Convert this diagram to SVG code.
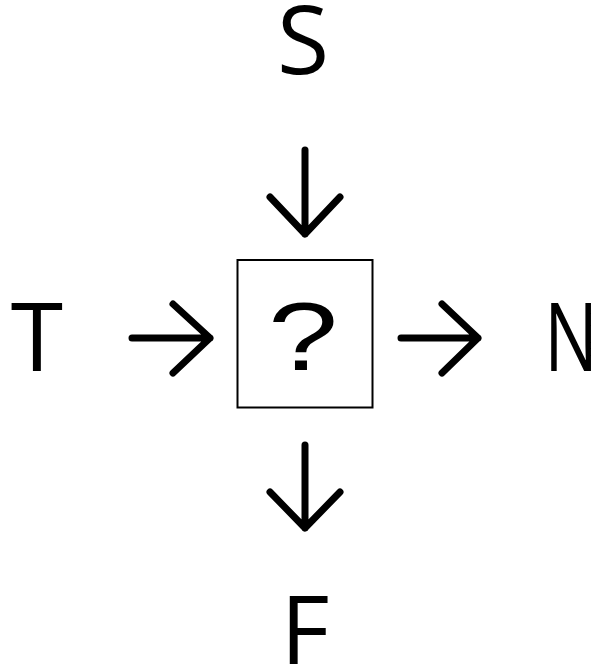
<svg xmlns="http://www.w3.org/2000/svg" width="604" height="668" viewBox="0 0 604 668">
<style>
.lbl{font-family:"Open Sans","Liberation Sans",sans-serif;font-size:95px;fill:#000;text-anchor:middle}
.q{font-family:"Liberation Sans",Arial,sans-serif;font-size:97px;fill:#000;text-anchor:middle}
.arr{fill:none;stroke:#000;stroke-width:7;stroke-linecap:round;stroke-linejoin:round}
</style>
<rect width="604" height="668" fill="#fff"/>
<g id="node-S"><text class="lbl" x="303" y="74">S</text></g>
<g id="node-T"><text class="lbl" x="37" y="371">T</text></g>
<g id="node-N"><text class="lbl" x="0" y="371" transform="translate(571 0) scale(0.75 1)">N</text></g>
<g id="node-F"><text class="lbl" x="305" y="664">F</text></g>
<g id="node-center">
<rect x="237.5" y="260" width="135" height="147.5" fill="#fff" stroke="#000" stroke-width="2"/>
<text class="q" x="0" y="370" transform="translate(303 0) scale(1.3 1)">?</text>
</g>
<g id="connectors">
<path class="arr" d="M305 150V234M270 197L305 234L340 197"/>
<path class="arr" d="M132 338H210M173 304L210 338L173 373"/>
<path class="arr" d="M401 338H478M442 304L478 338L442 373"/>
<path class="arr" d="M305 445V528M270 492L305 528L340 492"/>
</g>
</svg>
